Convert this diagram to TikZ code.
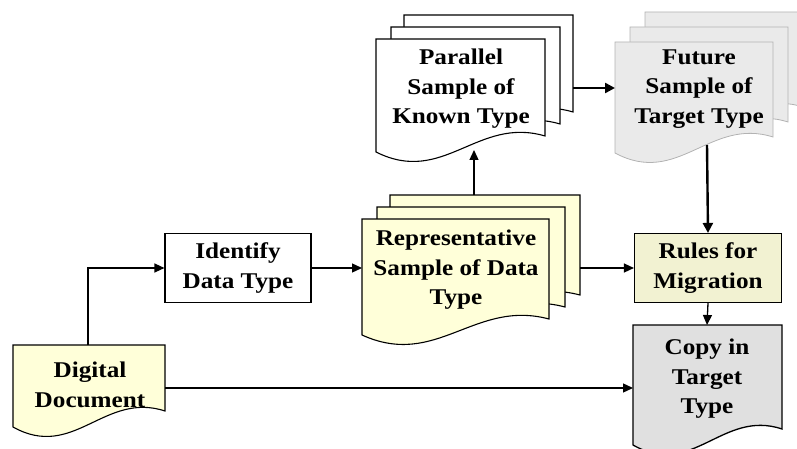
\documentclass[tikz,border=0pt]{standalone}
\usepackage{fontspec}
\setmainfont[FakeStretch=1.12]{Liberation Serif}
\usetikzlibrary{arrows.meta}
\definecolor{cream}{HTML}{FFFFD9}
\definecolor{rulesfill}{HTML}{F2F2D2}
\definecolor{greyfill}{HTML}{E0E0E0}
\definecolor{futfill}{HTML}{EAEAEA}
% #1 style, #2 L, #3 T, #4 R, #5 B (left bottom)
\newcommand\docshape[5]{%
  \path[#1] (#2,#3) -- (#4,#3) -- (#4,{#5-16})
    .. controls ({#2+0.6*(#4-#2)},{#5-36}) and ({#2+0.4*(#4-#2)},{#5+34}) .. (#2,#5) -- cycle;}
\tikzset{
  x=1pt, y=-1pt,
  txt/.style={font=\fontsize{22.5}{29.5}\selectfont\bfseries, align=center, inner sep=0pt},
  box/.style={draw, line width=1.1pt, txt},
  arr/.style={line width=1.3pt, -{Triangle[length=10pt,width=9pt]}},
  thickarr/.style={line width=2.4pt, -{Triangle[length=10pt,width=10pt]}},
  plaindoc/.style={draw, line width=1.1pt, fill=white},
  creamdoc/.style={draw, line width=1.1pt, fill=cream},
  greydoc/.style={draw, line width=1.3pt, fill=greyfill},
  futdoc/.style={draw=gray!60, line width=0.8pt, fill=futfill},
}
\begin{document}
\begin{tikzpicture}
\useasboundingbox (0,0) rectangle (797,449);
% Parallel sample of known type (stacked)
\docshape{plaindoc}{404}{15}{573}{128}
\docshape{plaindoc}{391}{27}{560}{140}
\docshape{plaindoc}{376}{39}{545}{152}
\node[txt] (par) at (461,89) {Parallel\\Sample of\\Known Type};
% Future sample of target type
\docshape{futdoc}{645}{12}{803}{123}
\docshape{futdoc}{630}{27}{788}{138}
\docshape{futdoc}{615}{42}{773}{153}
\node[txt] (fut) at (699,89) {Future\\Sample of\\Target Type};
% Representative sample
\docshape{creamdoc}{390}{195}{580}{311}
\docshape{creamdoc}{377}{207}{565}{323}
\docshape{creamdoc}{362}{219}{549}{335}
\node[txt] (rep) at (456,270) {Representative\\Sample of Data\\Type};
% Identify
\node[box, minimum width=146pt, minimum height=69pt] (idt) at (238,268) {Identify\\Data Type};
% Rules
\node[box, fill=rulesfill, minimum width=147pt, minimum height=69pt] (rul) at (708,268) {Rules for\\Migration};
% Digital document
\docshape{creamdoc}{13}{345}{165}{427}
\node[txt] (dd) at (90,385) {Digital\\Document};
% Copy in target type
\docshape{greydoc}{633}{325}{782}{445}
\node[txt] (cp) at (707,379) {Copy in\\Target\\Type};
% anchor coordinates
\coordinate (ddtop) at (88,345);
\coordinate (ddright) at (165,388);
\coordinate (repleft) at (362,268);
\coordinate (repright) at (580,268);
\coordinate (reptop) at (474,195);
\coordinate (parbot) at (474,150);
\coordinate (parright) at (573,88);
\coordinate (futleft) at (615,88);
\coordinate (futbot) at (707,145);
\coordinate (cptop) at (707,325);
\coordinate (cpleft) at (633,388);
% connectors
\draw[arr] (ddtop) |- (idt.west);
\draw[arr] (idt.east) -- (repleft);
\draw[arr] (repright) -- (rul.west);
\draw[arr] (reptop) -- (parbot);
\draw[thickarr] (parright) -- (futleft);
\draw[thickarr] (futbot) -- (rul.north);
\draw[arr] (rul.south) -- (cptop);
\draw[arr] (ddright) -- (cpleft);
\end{tikzpicture}
\end{document}
